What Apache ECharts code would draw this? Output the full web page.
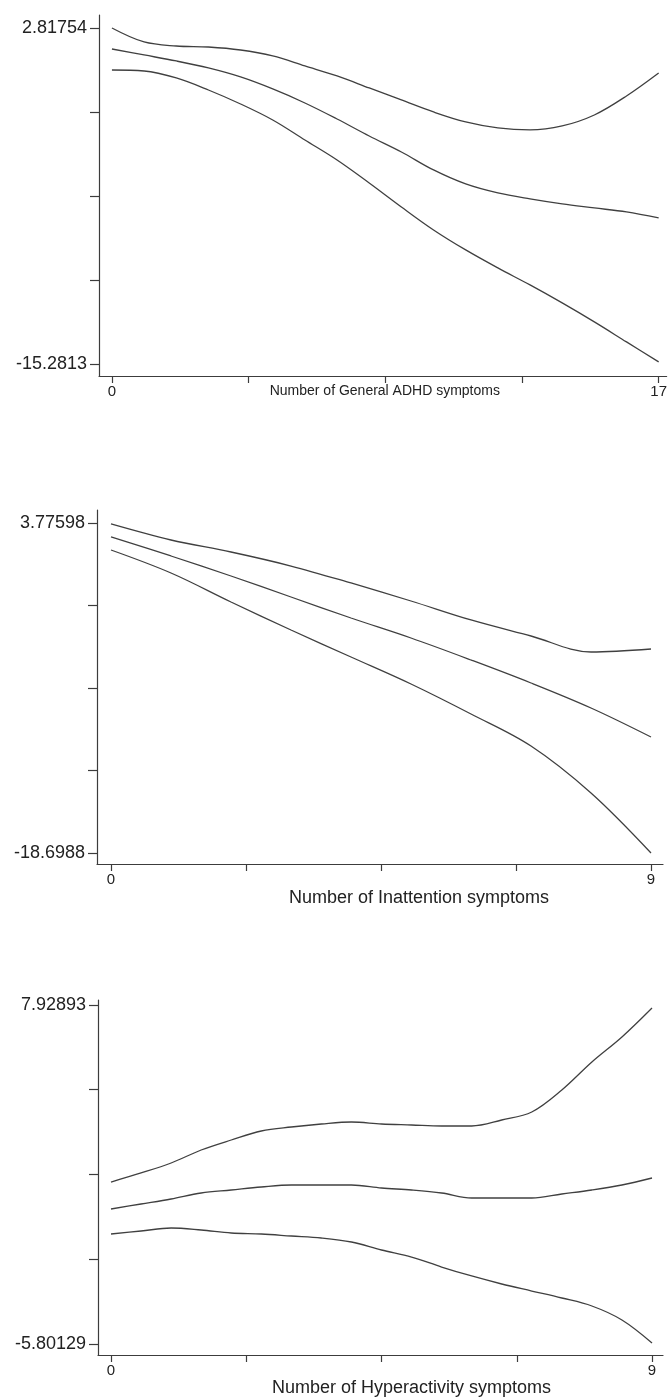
<!DOCTYPE html>
<html><head><meta charset="utf-8">
<script src="https://cdn.jsdelivr.net/npm/echarts@6/dist/echarts.min.js"></script>
<style>html,body{margin:0;padding:0;background:#fff}#c{width:670px;height:1398px}</style>
</head><body><div id="c"></div>
<script>
// ---- data ----
const x1 = [0,1,2,3,4,5,6,7,8,9,10,11,12,13,14,15,16,17];
const upper1 = [2.818,2.064,1.849,1.795,1.633,1.310,0.772,0.233,-0.413,-1.059,-1.706,-2.244,-2.567,-2.675,-2.459,-1.867,-0.844,0.394];
const mid1   = [1.687,1.364,1.041,0.664,0.179,-0.467,-1.221,-2.083,-2.998,-3.860,-4.829,-5.583,-6.068,-6.391,-6.660,-6.876,-7.091,-7.414];
const lower1 = [0.556,0.502,0.125,-0.521,-1.275,-2.137,-3.214,-4.291,-5.529,-6.822,-8.060,-9.137,-10.107,-11.022,-11.991,-13.015,-14.092,-15.168];

const x2 = [0,1,2,3,4,5,6,7,8,9];
const upper2 = [3.708,2.618,1.801,0.847,-0.310,-1.536,-2.830,-3.920,-5.010,-4.805];
const mid2   = [2.823,1.529,0.166,-1.264,-2.694,-4.056,-5.554,-7.121,-8.824,-10.799];
const lower2 = [1.937,0.371,-1.604,-3.511,-5.350,-7.189,-9.232,-11.412,-14.612,-18.699];

const x3 = [0,0.5,1,1.5,2,2.5,3,3.5,4,4.5,5,5.5,6,6.5,7,7.5,8,8.5,9];
const upper3 = [0.760,1.125,1.530,2.056,2.461,2.826,2.988,3.109,3.190,3.109,3.069,3.028,3.028,3.271,3.595,4.486,5.620,6.633,7.807];
const mid3   = [-0.333,-0.131,0.072,0.315,0.436,0.558,0.639,0.639,0.639,0.517,0.436,0.315,0.112,0.112,0.112,0.274,0.436,0.639,0.922];
const lower3 = [-1.346,-1.225,-1.103,-1.184,-1.306,-1.346,-1.427,-1.508,-1.670,-1.994,-2.278,-2.683,-3.047,-3.371,-3.655,-3.938,-4.262,-4.829,-5.761];

const yTickLabels1 = ['2.81754','-15.2813'];
const yTickLabels2 = ['3.77598','-18.6988'];
const yTickLabels3 = ['7.92893','-5.80129'];
const xTickLabels1 = ['0','17'];
const xTickLabels2 = ['0','9'];
const xTickLabels3 = ['0','9'];
const xTitles = ['Number of General ADHD symptoms','Number of Inattention symptoms','Number of Hyperactivity symptoms'];

// ---- layout ----
const FONT = "'Liberation Sans', Arial, sans-serif";
const TXT = '#222';
const AX = '#3c3c3c';
const LINE = '#404040';

const panels = [
  {x:x1, ys:[upper1,mid1,lower1], yl:yTickLabels1, xl:xTickLabels1, title:xTitles[0],
   grid:{left:99, top:15, width:570, height:361}, xmin:-0.4026, xmax:17.248, ymin:-15.9277, ymax:3.5178, gap:8, shift:2, tfs:14},
  {x:x2, ys:[upper2,mid2,lower2], yl:yTickLabels2, xl:xTickLabels2, title:xTitles[1],
   grid:{left:97, top:510, width:566, height:354}, xmin:-0.2333, xmax:9.2, ymin:-19.448, ymax:4.6614, gap:25, shift:39, tfs:18},
  {x:x3, ys:[upper3,mid3,lower3], yl:yTickLabels3, xl:xTickLabels3, title:xTitles[2],
   grid:{left:98, top:1000, width:565, height:355}, xmin:-0.2163, xmax:9.183, ymin:-6.2468, ymax:8.1314, gap:24, shift:31, tfs:18}
];

function labelFor(list){
  return function(v){
    let best = list[0], bd = Infinity;
    list.forEach(s => { const d = Math.abs(Number(s) - v); if (d < bd) { bd = d; best = s; } });
    return best;
  };
}

const grids = [], xAxes = [], yAxes = [], series = [];
panels.forEach((p, i) => {
  grids.push(Object.assign({containLabel:false}, p.grid));
  const xl = p.xl.map(Number);
  const xTicks = [0,1,2,3,4].map(k => xl[0] + (xl[1]-xl[0])*k/4);
  const yl = p.yl.map(Number);
  const yTicks = [0,1,2,3,4].map(k => yl[0] + (yl[1]-yl[0])*k/4);
  xAxes.push({
    type:'value', gridIndex:i, min:p.xmin, max:p.xmax,
    axisLine:{show:true, onZero:false, lineStyle:{color:AX, width:1.2}},
    axisTick:{show:true, customValues:xTicks, length:7, lineStyle:{color:AX, width:1.2}},
    axisLabel:{show:true, customValues:xl, formatter:labelFor(p.xl), margin:8, color:TXT, fontFamily:FONT, fontSize:15},
    splitLine:{show:false},
    name:p.title, nameLocation:'middle', nameGap:p.gap, nameMoveOverlap:false,
    nameTextStyle:{color:TXT, fontFamily:FONT, fontSize:p.tfs, verticalAlign:'top', padding:[0,0,0,2*p.shift]}
  });
  yAxes.push({
    type:'value', gridIndex:i, min:p.ymin, max:p.ymax,
    axisLine:{show:true, onZero:false, lineStyle:{color:AX, width:1.2}},
    axisTick:{show:true, customValues:yTicks, length:9, lineStyle:{color:AX, width:1.2}},
    axisLabel:{show:true, customValues:yl, formatter:labelFor(p.yl), margin:12, color:TXT, fontFamily:FONT, fontSize:18},
    splitLine:{show:false}
  });
  p.ys.forEach(arr => {
    series.push({
      type:'line', xAxisIndex:i, yAxisIndex:i, smooth:0.35, showSymbol:false, symbol:'none',
      lineStyle:{color:LINE, width:1.3},
      data: p.x.map((xv, k) => [xv, arr[k]])
    });
  });
});

const chart = echarts.init(document.getElementById('c'), null, {renderer:'canvas'});
chart.setOption({
  animation:false,
  backgroundColor:'#ffffff',
  grid:grids, xAxis:xAxes, yAxis:yAxes, series:series
});
</script>
</body></html>
